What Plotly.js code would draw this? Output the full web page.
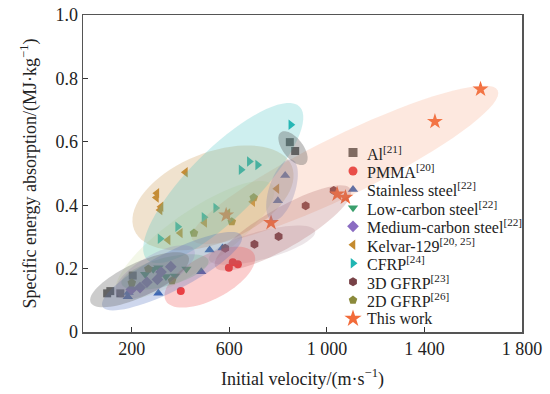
<!DOCTYPE html>
<html><head><meta charset="utf-8">
<script src="https://cdn.plot.ly/plotly-3.0.1.min.js"></script>
<style>html,body{margin:0;padding:0;background:#fff}#c{width:550px;height:394px}</style>
</head><body><div id="c"></div>
<script>
// ---- data (velocity m/s, SEA MJ/kg) ----
const alX = [99, 112, 153, 204, 848, 870];
const alY = [0.122, 0.129, 0.122, 0.178, 0.599, 0.571];
const pmmaX = [401, 598, 614, 635];
const pmmaY = [0.129, 0.203, 0.220, 0.214];
const ssX = [184, 187, 309, 485, 519, 572, 799, 829];
const ssY = [0.111, 0.125, 0.122, 0.190, 0.259, 0.265, 0.414, 0.494];
const lcX = [255, 288, 309, 340, 377, 424];
const lcY = [0.182, 0.198, 0.203, 0.175, 0.177, 0.199];
const mcX = [198, 234, 262, 305, 320, 360];
const mcY = [0.134, 0.140, 0.157, 0.166, 0.189, 0.206];
const kvX = [420, 303, 301, 320, 316, 499, 399, 349, 594, 696, 795];
const kvY = [0.504, 0.438, 0.424, 0.395, 0.385, 0.345, 0.312, 0.290, 0.374, 0.411, 0.452];
const cfX = [316, 388, 496, 544, 648, 682, 716, 852];
const cfY = [0.294, 0.332, 0.362, 0.391, 0.512, 0.538, 0.527, 0.654];
const g3X = [583, 703, 802, 913, 1028];
const g3Y = [0.264, 0.277, 0.301, 0.398, 0.446];
const g2X = [200, 268, 365, 455, 610, 700];
const g2Y = [0.155, 0.199, 0.162, 0.312, 0.348, 0.424];
const twX = [587, 771, 1042, 1076, 1443, 1630];
const twY = [0.369, 0.345, 0.435, 0.425, 0.664, 0.766];

const names = ['Al<sup>[21]</sup>', 'PMMA<sup>[20]</sup>', 'Stainless steel<sup>[22]</sup>',
  'Low-carbon steel<sup>[22]</sup>', 'Medium-carbon steel<sup>[22]</sup>',
  'Kelvar-129<sup>[20, 25]</sup>', 'CFRP<sup>[24]</sup>', '3D GFRP<sup>[23]</sup>',
  '2D GFRP<sup>[26]</sup>', 'This work'];

const xTicks = [200, 600, 1000, 1400, 1800];
const xTickText = ['200', '600', '1 000', '1 400', '1 800'];
const yTicks = [0, 0.2, 0.4, 0.6, 0.8, 1.0];
const yTickText = ['0', '0.2', '0.4', '0.6', '0.8', '1.0'];

// ---- styling ----
const FONT = "'Liberation Serif', 'Times New Roman', 'DejaVu Serif', serif";
const series = [
  [alX, alY, 'square', '#5f5f5f', 8],
  [pmmaX, pmmaY, 'circle', '#e63a3f', 8],
  [ssX, ssY, 'triangle-up', '#3a66b2', 9],
  [lcX, lcY, 'triangle-down', '#3a9f6c', 9],
  [mcX, mcY, 'diamond', '#8a6cc2', 9],
  [kvX, kvY, 'triangle-left', '#c48a2e', 9],
  [cfX, cfY, 'triangle-right', '#1fb5b2', 9],
  [g3X, g3Y, 'hexagon', '#784247', 9],
  [g2X, g2Y, 'pentagon', '#8b8a3b', 9],
  [twX, twY, 'star', '#f26b3a', 12]
];
const traces = series.map((s, i) => ({
  x: s[0], y: s[1], type: 'scatter', mode: 'markers', name: names[i], showlegend: false,
  marker: {symbol: s[2], color: s[3], size: s[4], line: {width: 0}}
}));

// manual legend (compact row spacing like the reference), in overlay axes
const plotW = 439, plotH = 317, xr = [0, 1800], yr = [0, 1];
const legMarkX = (353 - 83) / plotW, legTextX = (365 - 83) / plotW;
const legTop = (332 - 152.5) / plotH, legStep = 18.45 / plotH;
const annotations = [];
series.forEach((s, i) => {
  const ly = legTop - i * legStep;
  traces.push({
    x: [legMarkX], y: [ly], xaxis: 'x2', yaxis: 'y2', type: 'scatter', mode: 'markers',
    showlegend: false, hoverinfo: 'skip', cliponaxis: false,
    marker: {symbol: s[2], color: s[3], size: s[2] === 'star' ? 13 : 9, line: {width: 0}}
  });
  annotations.push({
    xref: 'paper', yref: 'paper', x: legTextX, y: ly, xanchor: 'left', yanchor: 'middle',
    text: names[i], showarrow: false, font: {family: FONT, size: 16, color: '#222'}
  });
});

// ellipses: [cx, cy (data), semi-major px, semi-minor px, angle deg, fill]
const ellipses = [
  [1074, 0.527, 170, 30, 26, 'rgba(245,150,110,0.22)'],
  [459, 0.290, 95, 28, 35, 'rgba(190,210,130,0.18)'],
  [533, 0.423, 85, 45, 22, 'rgba(200,150,80,0.28)'],
  [575, 0.470, 108, 34, 45, 'rgba(60,190,190,0.25)'],
  [734, 0.274, 55, 14, 15, 'rgba(150,110,130,0.18)'],
  [820, 0.328, 78, 20, 30, 'rgba(170,90,90,0.25)'],
  [520, 0.173, 50, 22, 28, 'rgba(240,80,80,0.28)'],
  [365, 0.192, 78, 19, 27, 'rgba(80,110,190,0.28)'],
  [336, 0.189, 45, 14, 15, 'rgba(80,160,110,0.22)'],
  [295, 0.189, 45, 17, 30, 'rgba(140,110,190,0.2)'],
  [232, 0.165, 54, 17, 25, 'rgba(110,110,110,0.35)'],
  [816, 0.448, 32, 13, 72, 'rgba(130,130,180,0.30)'],
  [861, 0.580, 20, 10, -52, 'rgba(100,100,100,0.38)']
];
const sx = plotW / (xr[1] - xr[0]), sy = plotH / (yr[1] - yr[0]);
function ellipsePath(cx, cy, a, b, ang) {
  const th = ang * Math.PI / 180, pts = [];
  for (let k = 0; k < 72; k++) {
    const t = 2 * Math.PI * k / 72;
    const dx = a * Math.cos(t) * Math.cos(th) - b * Math.sin(t) * Math.sin(th);
    const dy = a * Math.cos(t) * Math.sin(th) + b * Math.sin(t) * Math.cos(th);
    pts.push((cx + dx / sx).toFixed(2) + ',' + (cy + dy / sy).toFixed(4));
  }
  return 'M' + pts.join(' L') + ' Z';
}
const shapes = ellipses.map(e => ({
  type: 'path', path: ellipsePath(e[0], e[1], e[2], e[3], e[4]),
  xref: 'x', yref: 'y', fillcolor: e[5], line: {width: 0}, layer: 'above'
}));

const axisCommon = {
  showgrid: false, zeroline: false, showline: true, mirror: true,
  linecolor: '#555', linewidth: 1.5, ticks: 'inside', ticklen: 5,
  tickcolor: '#333', tickwidth: 1.2,
  tickfont: {family: FONT, size: 18, color: '#222'}
};
const layout = {
  width: 550, height: 394,
  margin: {l: 83, r: 28, t: 15, b: 62},
  paper_bgcolor: '#fff', plot_bgcolor: '#fff',
  font: {family: FONT, color: '#222'},
  showlegend: false,
  xaxis: Object.assign({}, axisCommon, {range: xr, tickvals: xTicks, ticktext: xTickText,
    title: {text: 'Initial velocity/(m·s<sup>−1</sup>)', standoff: 14,
      font: {family: FONT, size: 18, color: '#222'}}}),
  yaxis: Object.assign({}, axisCommon, {range: yr, tickvals: yTicks, ticktext: yTickText,
    title: {text: 'Specific energy absorption/(MJ·kg<sup>−1</sup>)', standoff: 14,
      font: {family: FONT, size: 18, color: '#222'}}}),
  xaxis2: {overlaying: 'x', range: [0, 1], visible: false, fixedrange: true},
  yaxis2: {overlaying: 'y', range: [0, 1], visible: false, fixedrange: true},
  shapes: shapes,
  annotations: annotations
};
Plotly.newPlot('c', traces, layout, {displayModeBar: false, staticPlot: true});
</script></body></html>
